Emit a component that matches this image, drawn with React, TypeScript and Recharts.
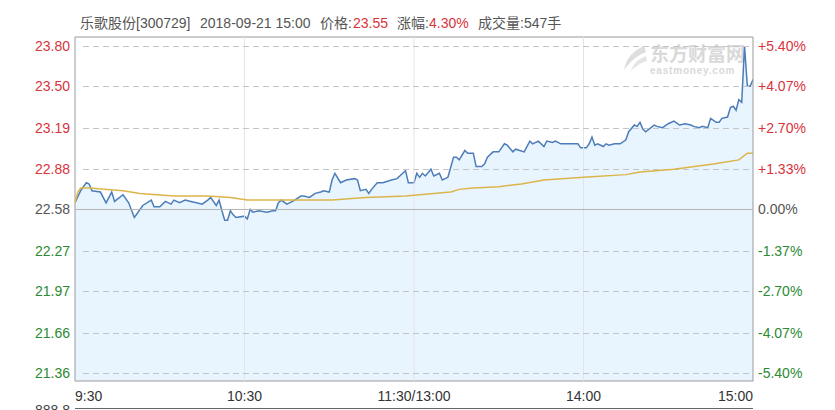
import React from 'react';
import {
  ComposedChart,
  Area,
  Line,
  XAxis,
  YAxis,
  ReferenceLine,
  ReferenceArea
} from 'recharts';

// previous close
const preClose = 22.58;

// price tick labels (left) – right axis shows the same as % change
const priceTicks = [21.36, 21.66, 21.97, 22.27, 22.58, 22.88, 23.19, 23.50, 23.80];

// minutes since 9:30 (lunch break squeezed out), 0..240
const timeTicks = [0, 60, 120, 180, 240];
const timeLabels = ['9:30', '10:30', '11:30/13:00', '14:00', '15:00'];

// price line
const priceMinutes = [
  0, 2, 4, 5, 6, 9, 11, 13, 14, 17, 19, 21, 22, 24, 27, 28, 30, 32, 34, 35,
  37, 39, 41, 43, 45, 47, 48, 50, 51, 52, 53, 54, 55, 56, 57, 60, 61, 62, 63, 65,
  68, 70, 71, 72, 73, 75, 77, 80, 81, 83, 85, 87, 88, 90, 91, 92, 94, 96, 99, 100,
  101, 103, 104, 105, 107, 109, 112, 114, 116, 117, 118, 120, 121, 122, 123, 124, 126, 127, 129, 130,
  132, 134, 135, 136, 138, 139, 141, 142, 144, 145, 146, 148, 150, 152, 153, 155, 156, 159, 161, 162,
  164, 166, 167, 169, 170, 172, 174, 178, 179, 181, 182, 183, 184, 185, 187, 188, 189, 191, 193, 195,
  196, 198, 199, 200, 201, 202, 205, 206, 208, 210, 212, 214, 216, 218, 219, 221, 222, 224, 225, 227,
  228, 229, 231, 232, 233, 234, 235, 236, 237, 238, 239, 240
];
const prices = [
  22.63, 22.72, 22.78, 22.77, 22.72, 22.71, 22.63, 22.71, 22.64, 22.69, 22.63, 22.52, 22.55, 22.61, 22.65, 22.60, 22.60, 22.64, 22.62, 22.65,
  22.63, 22.65, 22.64, 22.63, 22.62, 22.65, 22.67, 22.61, 22.65, 22.57, 22.50, 22.50, 22.57, 22.54, 22.52, 22.53, 22.51, 22.58, 22.56, 22.57,
  22.56, 22.57, 22.57, 22.63, 22.65, 22.62, 22.64, 22.68, 22.68, 22.67, 22.70, 22.71, 22.72, 22.71, 22.80, 22.85, 22.78, 22.80, 22.81, 22.80,
  22.72, 22.73, 22.70, 22.73, 22.78, 22.78, 22.80, 22.81, 22.85, 22.87, 22.78, 22.78, 22.85, 22.82, 22.85, 22.83, 22.88, 22.83, 22.85, 22.80,
  22.82, 22.97, 22.97, 22.95, 23.02, 23.00, 23.00, 22.90, 22.90, 22.92, 22.97, 23.01, 23.01, 23.07, 23.06, 23.01, 23.03, 23.01, 23.09, 23.07,
  23.09, 23.05, 23.09, 23.08, 23.09, 23.07, 23.07, 23.07, 23.04, 23.04, 23.07, 23.12, 23.06, 23.07, 23.05, 23.07, 23.06, 23.07, 23.07, 23.10,
  23.16, 23.21, 23.20, 23.23, 23.18, 23.16, 23.21, 23.20, 23.19, 23.22, 23.24, 23.21, 23.22, 23.21, 23.20, 23.19, 23.20, 23.19, 23.26, 23.23,
  23.23, 23.26, 23.27, 23.34, 23.35, 23.32, 23.40, 23.38, 23.80, 23.50, 23.50, 23.55
];

// average price line
const avgMinutes = [0, 1, 2, 5, 17, 23, 35, 47, 55, 61, 70, 82, 91, 103, 117, 133, 136, 141, 150, 158, 166, 180, 195, 200, 212, 226, 235, 238, 240];
const avgPrices = [
  22.63, 22.71, 22.74, 22.74, 22.72, 22.70, 22.68, 22.68, 22.67, 22.65, 22.65, 22.65, 22.65, 22.67, 22.68,
  22.71, 22.73, 22.74, 22.75, 22.77, 22.80, 22.82, 22.84, 22.86, 22.88, 22.92, 22.95, 23.00, 23.00
];

const priceData = priceMinutes.map((m, i) => ({ m, price: prices[i] }));
const avgData = avgMinutes.map((m, i) => ({ m, avg: avgPrices[i] }));

const RED = '#d9333c';
const GREEN = '#2b8a33';
const GRAY = '#555';

const tickColor = (v: number) => {
  if (Math.abs(v - preClose) < 0.001) return GRAY;
  return v > preClose ? RED : GREEN;
};

const pct = (v: number) => {
  const p = ((v - preClose) / preClose) * 100;
  if (Math.abs(p) < 0.001) return '0.00%';
  return (p > 0 ? '+' : '') + p.toFixed(2) + '%';
};

const FONT = '"Liberation Sans", Arial, "Noto Sans CJK SC", sans-serif';

const LeftTick = (props: any) => {
  const { x, y, payload } = props;
  return (
    <text x={x} y={y} dy={5} textAnchor="end" fontSize={14} fontFamily={FONT} fill={tickColor(payload.value)}>
      {payload.value.toFixed(2)}
    </text>
  );
};

const RightTick = (props: any) => {
  const { x, y, payload } = props;
  return (
    <text x={x} y={y} dy={5} textAnchor="start" fontSize={14} fontFamily={FONT} fill={tickColor(payload.value)}>
      {pct(payload.value)}
    </text>
  );
};

const TimeTick = (props: any) => {
  const { x, y, payload, index } = props;
  const anchor = index === 0 ? 'start' : index === timeTicks.length - 1 ? 'end' : 'middle';
  return (
    <text x={x} y={y} dy={18} textAnchor={anchor} fontSize={14} fontFamily={FONT} fill="#333">
      {timeLabels[timeTicks.indexOf(payload.value)]}
    </text>
  );
};

// dashed grid line drawn as short segments between the line's own end points
const DashedShape = (props: any) => {
  const { x1, y1, x2 } = props;
  if (x1 == null || y1 == null || x2 == null) return null;
  const y = Math.round(y1) + 0.5;
  let d = '';
  for (let x = x1 + 8; x < x2 - 6; x += 10) {
    d += `M${x},${y}h6`;
  }
  return <path d={d} stroke="#c4c4c4" strokeWidth={1} fill="none" />;
};

const App: React.FC = () => {
  return (
    <div
      style={{
        position: 'absolute',
        left: 0,
        top: 0,
        width: 835,
        height: 410,
        overflow: 'hidden',
        background: '#fff',
        fontFamily: FONT
      }}
    >
      {/* header */}
      <div style={{ position: 'absolute', top: 14, left: 0, fontSize: 14, lineHeight: '18px', color: '#555', whiteSpace: 'nowrap' }}>
        <span style={{ position: 'absolute', left: 80 }}>乐歌股份[300729]</span>
        <span style={{ position: 'absolute', left: 200 }}>2018-09-21 15:00</span>
        <span style={{ position: 'absolute', left: 320 }}>价格:</span>
        <span style={{ position: 'absolute', left: 353, color: RED }}>23.55</span>
        <span style={{ position: 'absolute', left: 397 }}>涨幅:</span>
        <span style={{ position: 'absolute', left: 429, color: RED }}>4.30%</span>
        <span style={{ position: 'absolute', left: 478 }}>成交量:547手</span>
      </div>

      {/* watermark */}
      <svg style={{ position: 'absolute', left: 620, top: 44 }} width={28} height={28}>
        <path d="M24 2 C14 6 6 14 4 26 C10 18 16 12 26 8 Z" fill="#dedede" />
        <path d="M26 12 C18 15 13 20 11 27 C16 22 20 19 27 17 Z" fill="#e4e4e4" />
      </svg>
      <div style={{ position: 'absolute', left: 650, top: 42, color: '#d9d9d9', whiteSpace: 'nowrap' }}>
        <div style={{ fontSize: 19, fontWeight: 'bold', lineHeight: '22px', fontFamily: '"Noto Sans CJK SC", sans-serif' }}>东方财富网</div>
        <div style={{ fontSize: 10, fontWeight: 'bold', lineHeight: '11px', marginTop: 1, letterSpacing: 0.8 }}>eastmoney.com</div>
      </div>

      <div style={{ position: 'absolute', left: 0, top: 0 }}>
        <ComposedChart
          width={835}
          height={410}
          data={priceData}
          margin={{ top: 37, right: 0, left: 0, bottom: 0 }}
        >
          <XAxis
            type="number"
            dataKey="m"
            domain={[0, 240]}
            ticks={timeTicks}
            allowDataOverflow
            axisLine={false}
            tickLine={false}
            tickSize={0}
            tickMargin={2}
            height={29}
            interval={0}
            tick={<TimeTick />}
          />
          <YAxis
            yAxisId="l"
            orientation="left"
            type="number"
            domain={[21.3, 23.867]}
            ticks={priceTicks}
            allowDataOverflow
            width={75}
            axisLine={false}
            tickLine={false}
            tickSize={0}
            tickMargin={5}
            interval={0}
            tick={<LeftTick />}
          />
          <YAxis
            yAxisId="r"
            orientation="right"
            type="number"
            domain={[21.3, 23.867]}
            ticks={priceTicks}
            allowDataOverflow
            width={82}
            axisLine={false}
            tickLine={false}
            tickSize={0}
            tickMargin={5}
            interval={0}
            tick={<RightTick />}
          />
          {/* grid: vertical solid at the hour marks, horizontal dashed at price ticks */}
          {timeTicks.slice(1, -1).map((t) => (
            <ReferenceLine key={'v' + t} yAxisId="l" x={t} stroke="#e4e4e4" strokeWidth={1} />
          ))}
          {priceTicks
            .filter((p) => p !== preClose)
            .map((p) => (
              <ReferenceLine key={'h' + p} yAxisId="l" y={p} stroke="#c4c4c4" shape={<DashedShape />} />
            ))}
          <ReferenceLine yAxisId="l" y={preClose} stroke="#b4b4b4" strokeWidth={1} />
          <Area
            yAxisId="l"
            type="linear"
            dataKey="price"
            stroke="#4c7db9"
            strokeWidth={1.5}
            fill="#2196f3"
            fillOpacity={0.1}
            isAnimationActive={false}
            dot={false}
            activeDot={false}
          />
          <Line
            yAxisId="l"
            data={avgData}
            type="linear"
            dataKey="avg"
            stroke="#dcb54a"
            strokeWidth={1.5}
            dot={false}
            activeDot={false}
            isAnimationActive={false}
          />
          <ReferenceArea
            yAxisId="l"
            x1={0}
            x2={240}
            y1={21.3}
            y2={23.867}
            fill="none"
            stroke="#9a9a9a"
            strokeWidth={1}
            ifOverflow="visible"
          />
        </ComposedChart>
      </div>

      {/* top edge of the volume panel below, cut off by the frame */}
      <div style={{ position: 'absolute', left: 75, top: 408, width: 678, borderTop: '1px solid #666' }} />
      <div style={{ position: 'absolute', right: 765, top: 402, fontSize: 14, lineHeight: '16px', color: '#444' }}>888.8</div>
    </div>
  );
};

export default App;
